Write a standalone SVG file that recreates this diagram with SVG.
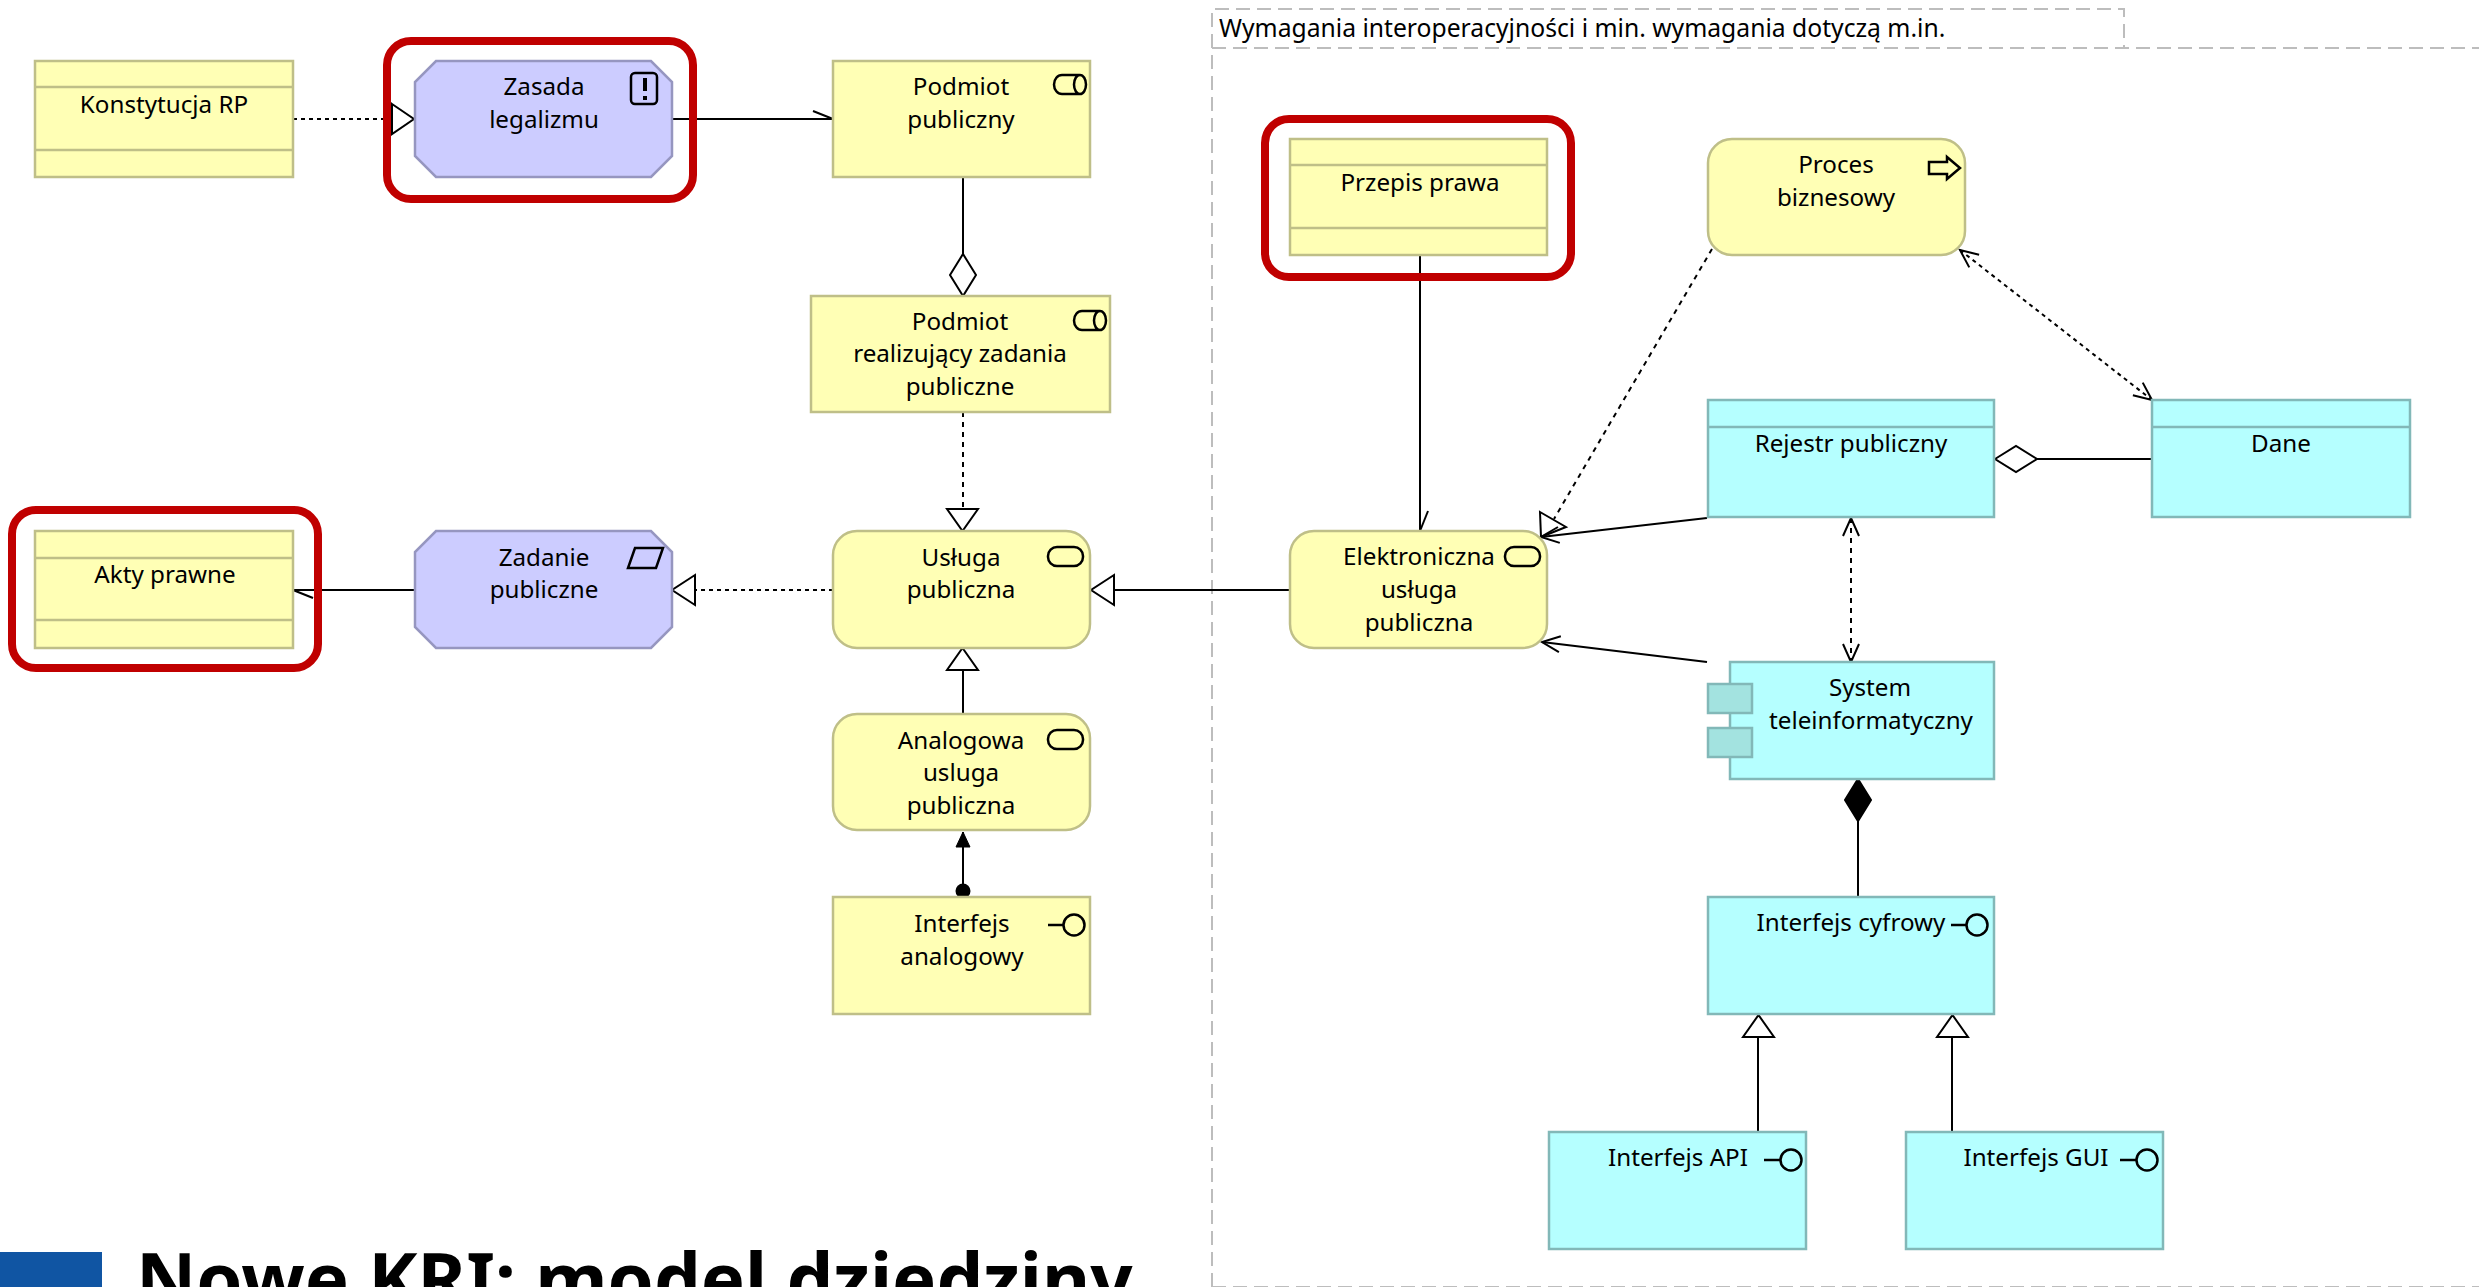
<svg xmlns="http://www.w3.org/2000/svg" width="2479" height="1287" viewBox="0 0 2479 1287">
<style>
text{font-family:"Noto Sans","Open Sans","DejaVu Sans",sans-serif;font-size:24.200px;fill:#000;text-anchor:middle}
.y{fill:#FFFFB5;stroke:#BFBF88;stroke-width:2.500}
.b{fill:#CCCCFF;stroke:#9696C0;stroke-width:2.500}
.c{fill:#B5FFFF;stroke:#82B8B8;stroke-width:2.500}
.k{fill:#A3E3E0;stroke:#82B8B8;stroke-width:2.500}
.ly{stroke:#BFBF88;stroke-width:2.500;fill:none}
.lc{stroke:#82B8B8;stroke-width:2.500;fill:none}
.i{fill:none;stroke:#000;stroke-width:2.500}
.red{fill:none;stroke:#C00000;stroke-width:8}
.w{fill:none;stroke:#000;stroke-width:2}
.dot{stroke-dasharray:4 4}
.dash{stroke-dasharray:5 5}
.g{fill:none;stroke:#BDBDBD;stroke-width:2;stroke-dasharray:14 7}
.t{fill:#fff;stroke:#000;stroke-width:2}
</style>
<defs>
<marker id="dia" markerUnits="userSpaceOnUse" markerWidth="50" markerHeight="32" refX="1" refY="15" orient="auto" overflow="visible"><path d="M1,15 L22,2 L43,15 L22,28 Z" fill="#fff" stroke="#000" stroke-width="2"/></marker>
<marker id="diaf" markerUnits="userSpaceOnUse" markerWidth="50" markerHeight="32" refX="1" refY="15" orient="auto" overflow="visible"><path d="M1,15 L22,2 L43,15 L22,28 Z" fill="#000" stroke="#000" stroke-width="2"/></marker>
<marker id="barb" markerUnits="userSpaceOnUse" markerWidth="24" markerHeight="22" refX="20" refY="10" orient="auto-start-reverse" overflow="visible"><path d="M2,2 L20,10 L2,18" fill="none" stroke="#000" stroke-width="2"/></marker>
<marker id="half" markerUnits="userSpaceOnUse" markerWidth="24" markerHeight="22" refX="20" refY="10" orient="auto" overflow="visible"><path d="M0,2 L20,10" fill="none" stroke="#000" stroke-width="2"/></marker>
<marker id="fill" markerUnits="userSpaceOnUse" markerWidth="20" markerHeight="18" refX="15" refY="8" orient="auto" overflow="visible"><path d="M0,1 L15,8 L0,15 Z" fill="#000" stroke="#000"/></marker>
</defs>

<g id="group-wymagania">
<path class="g" d="M1212,1287 V48 H2479"/>
<path class="g" d="M1212,48 V9 H2124 V48"/>
<path class="g" d="M1212,1287 H2479"/>
<text x="1219" y="37" style="text-anchor:start;font-size:24.700px">Wymagania interoperacyjności i min. wymagania dotyczą m.in.</text>
</g>

<g id="connectors">
<path class="w dot" d="M293,119 H392"/>
<path class="t" d="M392,104 L414,119 L392,134 Z"/>
<path class="w" marker-end="url(#half)" d="M672,119 H833"/>
<path class="w" marker-start="url(#dia)" d="M963,296 V177"/>
<path class="w dash" d="M963,412 V509"/>
<path class="w" marker-end="url(#half)" d="M415,590 H293"/>
<path class="w dot" d="M833,590 H695"/>
<path class="t" d="M695,575 L672,590 L695,605 Z"/>
<path class="t" d="M947,509 H978 L962.500,531 Z"/>
<path class="w" d="M1290,590 H1113"/>
<path class="t" d="M1114,575 L1091,590 L1114,605 Z"/>
<path class="w" d="M963,714 V670"/>
<path class="t" d="M947,670 H978 L962.500,648 Z"/>
<path class="w" marker-end="url(#fill)" d="M963,891 V832"/>
<circle cx="963" cy="891" r="7.500" fill="#000"/>
<path class="w" marker-end="url(#half)" d="M1420,255 V531"/>
<path class="w dash" d="M1712,249 L1554,519"/>
<path class="t" d="M1540,512 L1566,527 L1541,537 Z"/>
<path class="w dot" marker-start="url(#barb)" marker-end="url(#barb)" d="M1960,250 L2152,400"/>
<path class="w" marker-end="url(#barb)" d="M1707,518 L1541,537"/>
<path class="w" marker-start="url(#dia)" d="M1995,459 H2152"/>
<path class="w dash" marker-start="url(#barb)" marker-end="url(#barb)" d="M1851,518 V662"/>
<path class="w" marker-end="url(#barb)" d="M1707,662 L1542,642"/>
<path class="w" marker-start="url(#diaf)" d="M1858,779 V897"/>
<path class="w" d="M1758,1132 V1037"/>
<path class="t" d="M1743,1037 H1774 L1758.500,1015 Z"/>
<path class="w" d="M1952,1132 V1037"/>
<path class="t" d="M1937,1037 H1968 L1952.500,1015 Z"/>
</g>

<g id="node-konstytucja"><rect class="y" x="35" y="61" width="258" height="116"/><path class="ly" d="M35,87 H293 M35,150 H293"/><text x="164" y="113">Konstytucja RP</text></g>
<g id="node-zasada"><path class="b" d="M436,61 H651 L672,82 V156 L651,177 H436 L415,156 V82 Z"/><rect class="i" x="631" y="73" width="26" height="31" rx="4"/><path d="M645,78 V91" stroke="#000" stroke-width="4" fill="none"/><path d="M645,96 V100" stroke="#000" stroke-width="4" fill="none"/><text x="544" y="95">Zasada</text><text x="544" y="128">legalizmu</text></g>
<g id="node-podmiot"><rect class="y" x="833" y="61" width="257" height="116"/><path class="i" d="M1080,75 H1062 A8,9.500 0 0 0 1062,94 H1080 A6,9.500 0 0 0 1080,75 A6,9.500 0 0 0 1080,94"/><text x="961" y="95">Podmiot</text><text x="961" y="128">publiczny</text></g>
<g id="node-realizujacy"><rect class="y" x="811" y="296" width="299" height="116"/><path class="i" d="M1100,311 H1082 A8,9.500 0 0 0 1082,330 H1100 A6,9.500 0 0 0 1100,311 A6,9.500 0 0 0 1100,330"/><text x="960" y="330">Podmiot</text><text x="960" y="362">realizujący zadania</text><text x="960" y="395">publiczne</text></g>
<g id="node-akty"><rect class="y" x="35" y="531" width="258" height="117"/><path class="ly" d="M35,558 H293 M35,620 H293"/><text x="165" y="583">Akty prawne</text></g>
<g id="node-zadanie"><path class="b" d="M436,531 H651 L672,552 V627 L651,648 H436 L415,627 V552 Z"/><path class="i" d="M635,548 H663 L656,568 H628 Z"/><text x="544" y="566">Zadanie</text><text x="544" y="598">publiczne</text></g>
<g id="node-usluga"><rect class="y" x="833" y="531" width="257" height="117" rx="24"/><rect class="i" x="1048" y="547" width="35" height="19" rx="9"/><text x="961" y="566">Usługa</text><text x="961" y="598">publiczna</text></g>
<g id="node-analogowa"><rect class="y" x="833" y="714" width="257" height="116" rx="24"/><rect class="i" x="1048" y="730" width="35" height="19" rx="9"/><text x="961" y="749">Analogowa</text><text x="961" y="781">usluga</text><text x="961" y="814">publiczna</text></g>
<g id="node-interfejs-analogowy"><rect class="y" x="833" y="897" width="257" height="117"/><path class="i" d="M1048,925 H1064"/><circle class="i" cx="1074" cy="925" r="10.500"/><text x="962" y="932">Interfejs</text><text x="962" y="965">analogowy</text></g>
<g id="node-przepis"><rect class="y" x="1290" y="139" width="257" height="116"/><path class="ly" d="M1290,165 H1547 M1290,228 H1547"/><text x="1420" y="191">Przepis prawa</text></g>
<g id="node-proces"><rect class="y" x="1708" y="139" width="257" height="116" rx="24"/><path class="i" d="M1929,162 H1947 V157 L1960,168 L1947,179 V174 H1929 Z"/><text x="1836" y="173">Proces</text><text x="1836" y="206">biznesowy</text></g>
<g id="node-rejestr"><rect class="c" x="1708" y="400" width="286" height="117"/><path class="lc" d="M1708,427 H1994"/><text x="1851" y="452">Rejestr publiczny</text></g>
<g id="node-dane"><rect class="c" x="2152" y="400" width="258" height="117"/><path class="lc" d="M2152,427 H2410"/><text x="2281" y="452">Dane</text></g>
<g id="node-elektroniczna"><rect class="y" x="1290" y="531" width="257" height="117" rx="24"/><rect class="i" x="1505" y="547" width="35" height="19" rx="9"/><text x="1419" y="565">Elektroniczna</text><text x="1419" y="598">usługa</text><text x="1419" y="631">publiczna</text></g>
<g id="node-system"><rect class="c" x="1730" y="662" width="264" height="117"/><rect class="k" x="1708" y="684" width="44" height="29"/><rect class="k" x="1708" y="728" width="44" height="29"/><text x="1870" y="696">System</text><text x="1871" y="729">teleinformatyczny</text></g>
<g id="node-cyfrowy"><rect class="c" x="1708" y="897" width="286" height="117"/><path class="i" d="M1951,925 H1967"/><circle class="i" cx="1977" cy="925" r="10.500"/><text x="1851" y="931">Interfejs cyfrowy</text></g>
<g id="node-api"><rect class="c" x="1549" y="1132" width="257" height="117"/><path class="i" d="M1764,1160 H1781"/><circle class="i" cx="1791" cy="1160" r="10.500"/><text x="1678" y="1166">Interfejs API</text></g>
<g id="node-gui"><rect class="c" x="1906" y="1132" width="257" height="117"/><path class="i" d="M2120,1160 H2137"/><circle class="i" cx="2147" cy="1160" r="10.500"/><text x="2036" y="1166">Interfejs GUI</text></g>

<rect class="red" x="387" y="41" width="306" height="158" rx="24"/>
<rect class="red" x="12" y="510" width="306" height="158" rx="24"/>
<rect class="red" x="1265" y="119" width="306" height="158" rx="24"/>

<rect x="0" y="1252" width="102" height="35" fill="#1055A3"/>
<text x="136" y="1306" style="text-anchor:start;font-size:74.200px;font-weight:700">Nowe KRI: model dziedziny</text>
</svg>
